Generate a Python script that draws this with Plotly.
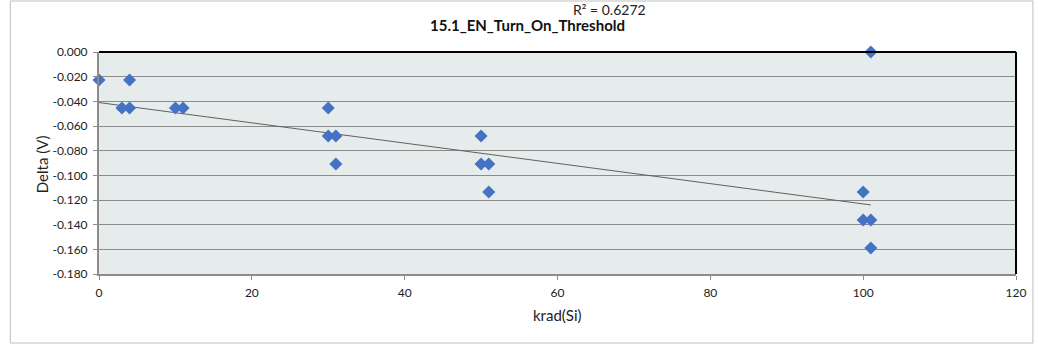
import plotly.graph_objects as go

# Data
krad = [0, 3, 4, 4, 10, 11, 30, 30, 31, 31, 50, 50, 51, 51, 100, 100, 101, 101, 101]
delta = [-0.0227, -0.0454, -0.0454, -0.0227, -0.0454, -0.0454,
         -0.0454, -0.0681, -0.0681, -0.0908,
         -0.0681, -0.0908, -0.0908, -0.1135,
         -0.1135, -0.1362, -0.1362, -0.1589, 0.0]
# Linear trendline end points
trend_krad = [0, 101]
trend_delta = [-0.041, -0.124]
y_tickvals = [0.0, -0.02, -0.04, -0.06, -0.08, -0.10, -0.12, -0.14, -0.16, -0.18]
y_ticktext = ["0.000", "-0.020", "-0.040", "-0.060", "-0.080", "-0.100",
              "-0.120", "-0.140", "-0.160", "-0.180"]
x_tickvals = [0, 20, 40, 60, 80, 100, 120]
title_text = "15.1_EN_Turn_On_Threshold"
r2_text = "R² = 0.6272"
x_title = "krad(Si)"
y_title = "Delta (V)"

FONT = "Lato, 'Open Sans', sans-serif"

fig = go.Figure()
fig.add_trace(go.Scatter(x=trend_krad, y=trend_delta, mode="lines",
                         line=dict(color="#606060", width=1), hoverinfo="skip"))
fig.add_trace(go.Scatter(x=krad, y=delta, mode="markers",
                         marker=dict(symbol="diamond", size=10, color="#4472C4",
                                     line=dict(width=0)), cliponaxis=False))

L, R, T, B = 99, 19, 52, 72
W, H = 1038, 346
pw, ph = W - L - R, H - T - B

def px(x):
    return (x - L) / pw

def py(y):
    return (H - B - y) / ph

fig.update_layout(
    width=W, height=H,
    margin=dict(l=L, r=R, t=T, b=B),
    paper_bgcolor="white",
    plot_bgcolor="#E6EBEB",
    showlegend=False,
    font=dict(family=FONT, size=12, color="#222"),
    xaxis=dict(range=[0, 120], tickvals=x_tickvals, showgrid=False,
               zeroline=False, showline=True, linecolor="#8C8C8C", linewidth=2,
               ticks="outside", ticklen=4, tickcolor="#8C8C8C",
               ticklabelstandoff=3,
               tickfont=dict(size=12), mirror=False),
    yaxis=dict(range=[-0.18, 0.0], tickvals=y_tickvals, ticktext=y_ticktext,
               showgrid=True, gridcolor="#8C8C8C", gridwidth=1,
               zeroline=False, showline=True, linecolor="#8C8C8C", linewidth=2,
               ticks="outside", ticklen=4, tickcolor="#8C8C8C",
               ticklabelstandoff=3,
               tickfont=dict(size=12)),
    shapes=[
        dict(type="rect", xref="paper", yref="paper",
             x0=px(10), x1=px(1036), y0=py(343), y1=py(1),
             line=dict(color="#BFBFBF", width=1), fillcolor="rgba(0,0,0,0)",
             layer="below"),
        dict(type="line", xref="paper", yref="paper", x0=0, x1=1, y0=1, y1=1,
             line=dict(color="black", width=2)),
        dict(type="line", xref="paper", yref="paper", x0=1, x1=1, y0=0, y1=1,
             line=dict(color="black", width=2)),
    ],
    annotations=[
        dict(text=f"<b>{title_text}</b>", xref="paper", yref="paper",
             x=px(529), y=py(25), showarrow=False, font=dict(size=15, color="#111"),
             xanchor="center", yanchor="middle"),
        dict(text=r2_text, xref="paper", yref="paper",
             x=px(611), y=py(10), showarrow=False, font=dict(size=14, color="#222"),
             xanchor="center", yanchor="middle"),
        dict(text=x_title, xref="paper", yref="paper",
             x=px(559), y=py(315), showarrow=False, font=dict(size=15, color="#222"),
             xanchor="center", yanchor="middle"),
        dict(text=y_title, xref="paper", yref="paper", textangle=-90,
             x=px(42), y=py(164), showarrow=False, font=dict(size=15, color="#222"),
             xanchor="center", yanchor="middle"),
    ],
)

fig.write_html("out.html", config={"displayModeBar": False},
               post_script="document.body.style.margin='0px';document.body.style.overflow='hidden';")
